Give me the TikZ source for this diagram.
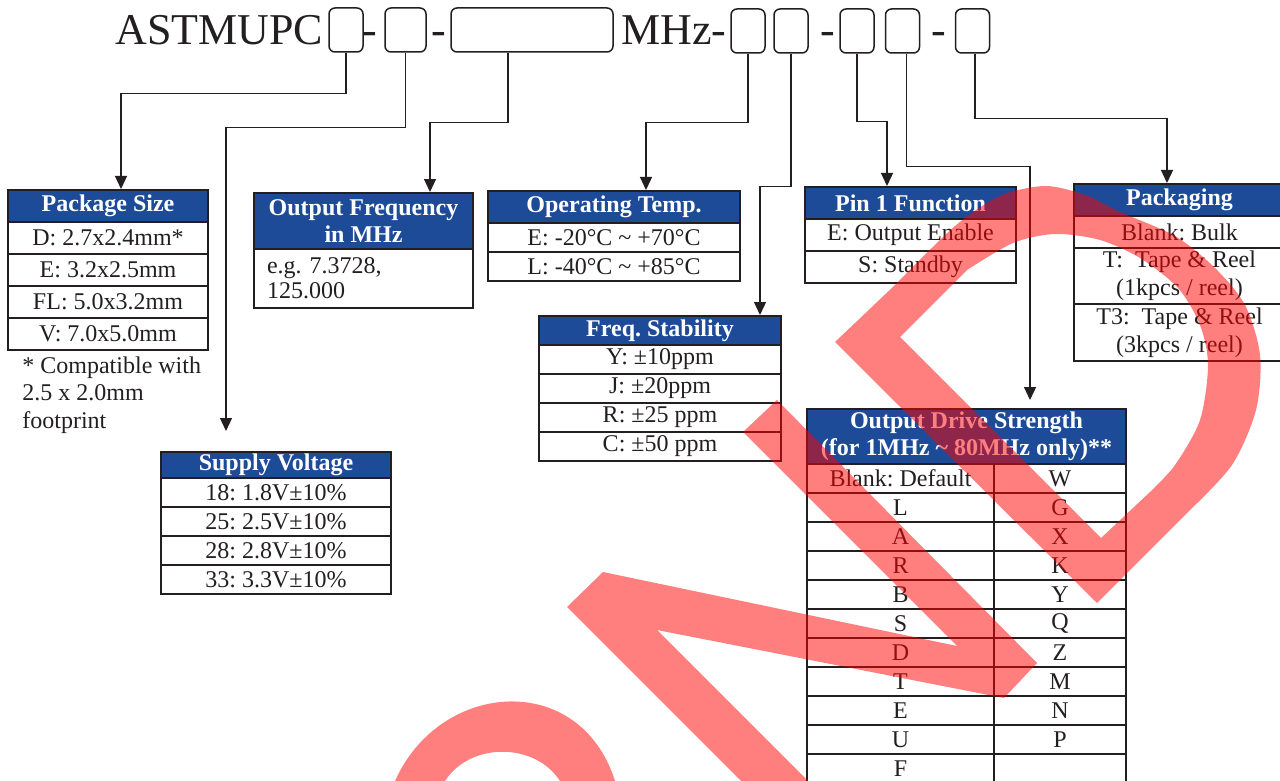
\documentclass[tikz,border=0pt]{standalone}
\usepackage{fontspec}
\setmainfont{Liberation Serif}
\usetikzlibrary{arrows.meta}
\frenchspacing

\definecolor{ink}{RGB}{35,31,32}
\definecolor{hdrblue}{RGB}{29,75,152}

\tikzset{
  pn/.style={text=ink, inner sep=0pt, font=\fontsize{22}{26}\selectfont},
  slot/.style={draw=ink, line width=0.75pt, rounded corners=3pt, minimum height=22pt, inner sep=0pt},
  feed/.style={draw=ink, line width=0.65pt, -{Triangle[length=6.5pt,width=6pt]}},
  head/.style={draw=ink, line width=1pt, fill=hdrblue, text=white, anchor=north west, inner sep=0pt, align=center, font=\bfseries\fontsize{12}{13.5}\selectfont},
  cell/.style={draw=ink, line width=1pt, text=ink, anchor=north west, inner sep=0pt, align=center, font=\fontsize{12}{14}\selectfont},
  stamp/.style={fill=red, fill opacity=0.5}
}

\begin{document}
\begin{tikzpicture}[x=0.5pt, y=-0.5pt]
\useasboundingbox (0,0) rectangle (1280,781);

% part number
\node[pn, anchor=base west] (pname) at (115,45) {ASTMUPC};
\node[slot, minimum width=17pt] (b1) at (346,30) {};
\node[pn, anchor=base] (d1) at (370,45) {-};
\node[slot, minimum width=20.5pt] (b2) at (405.5,30) {};
\node[pn, anchor=base] (d2) at (439,45) {-};
\node[slot, minimum width=81pt] (b3) at (532,30) {};
\node[pn, anchor=base west] (mhz) at (621,45) {MHz-};
\node[slot, minimum width=17pt] (b4) at (748,31) {};
\node[slot, minimum width=17pt] (b5) at (791,31) {};
\node[pn, anchor=base] (d3) at (828,45) {-};
\node[slot, minimum width=17pt] (b6) at (857,31) {};
\node[slot, minimum width=17pt] (b7) at (902.5,31) {};
\node[pn, anchor=base] (d4) at (939,45) {-};
\node[slot, minimum width=17pt] (b8) at (972.5,31) {};

% package size
\node[head, minimum width=100pt, minimum height=16pt] (pkg) at (7,189) {Package Size};
\node[cell, minimum width=100pt, minimum height=16pt] (pkg1) at (7,221) {D: 2.7x2.4mm*};
\node[cell, minimum width=100pt, minimum height=16pt] (pkg2) at (7,253) {E: 3.2x2.5mm};
\node[cell, minimum width=100pt, minimum height=16pt] (pkg3) at (7,285) {FL: 5.0x3.2mm};
\node[cell, minimum width=100pt, minimum height=16pt] (pkg4) at (7,317) {V: 7.0x5.0mm};
\node[anchor=north west, align=left, text=ink, inner sep=0pt, font=\fontsize{12}{13.75}\selectfont] (pkgnote) at (22,356) {* Compatible with\\2.5 x 2.0mm\\footprint};

% supply voltage
\node[head, minimum width=115pt, minimum height=13pt] (sup) at (160,451) {Supply Voltage};
\node[cell, minimum width=115pt, minimum height=14.5pt] (sup1) at (160,477) {18: 1.8V±10\%};
\node[cell, minimum width=115pt, minimum height=14.5pt] (sup2) at (160,506) {25: 2.5V±10\%};
\node[cell, minimum width=115pt, minimum height=14.5pt] (sup3) at (160,535) {28: 2.8V±10\%};
\node[cell, minimum width=115pt, minimum height=14.5pt] (sup4) at (160,564) {33: 3.3V±10\%};

% output frequency
\node[head, minimum width=109.5pt, minimum height=28pt] (freq) at (253,192) {Output Frequency\\in MHz};
\node[cell, minimum height=29.5pt, text width=96.5pt, inner xsep=6.5pt, align=left, font=\fontsize{12}{12.5}\selectfont] (freq1) at (253,248) {e.g. 7.3728,\\125.000};

% operating temp
\node[head, minimum width=126pt, minimum height=16pt] (temp) at (487,190) {Operating Temp.};
\node[cell, minimum width=126pt, minimum height=14.5pt] (temp1) at (487,222) {E: -20°C \textasciitilde{} +70°C};
\node[cell, minimum width=126pt, minimum height=14.5pt] (temp2) at (487,251) {L: -40°C \textasciitilde{} +85°C};

% frequency stability
\node[head, minimum width=121pt, minimum height=14.5pt] (stab) at (538,315) {Freq. Stability};
\node[cell, minimum width=121pt, minimum height=14.5pt] (stab1) at (538,344) {Y: ±10ppm};
\node[cell, minimum width=121pt, minimum height=14.5pt] (stab2) at (538,373) {J: ±20ppm};
\node[cell, minimum width=121pt, minimum height=14.5pt] (stab3) at (538,402) {R: ±25 ppm};
\node[cell, minimum width=121pt, minimum height=14.5pt] (stab4) at (538,431) {C: ±50 ppm};

% pin 1 function
\node[head, minimum width=105.5pt, minimum height=16pt] (pin) at (804,186) {Pin 1 Function};
\node[cell, minimum width=105.5pt, minimum height=16pt] (pin1) at (804,218) {E: Output Enable};
\node[cell, minimum width=105.5pt, minimum height=16pt] (pin2) at (804,250) {S: Standby};

% packaging
\node[head, minimum width=105.5pt, minimum height=16pt] (pack) at (1073,183) {Packaging};
\node[cell, minimum width=105.5pt, minimum height=16pt] (pack1) at (1073,215) {Blank: Bulk};
\node[cell, minimum width=105.5pt, minimum height=28pt] (pack2) at (1073,247) {T:~~Tape \& Reel\\(1kpcs / reel)};
\node[cell, minimum width=105.5pt, minimum height=28.5pt] (pack3) at (1073,303) {T3:~~Tape \& Reel\\(3kpcs / reel)};

% output drive strength
\node[head, minimum width=159.5pt, minimum height=27.5pt] (drv) at (806,408) {Output Drive Strength\\(for 1MHz \textasciitilde{} 80MHz only)**};
\foreach \l/\r [count=\i] in {Blank: Default/W, L/G, A/X, R/K, B/Y, S/Q, D/Z, T/M, E/N, U/P, F/{}} {
  \node[cell, minimum width=93.5pt, minimum height=14.5pt] (dl\i) at (806,{463+29*(\i-1)}) {\l};
  \node[cell, minimum width=66pt, minimum height=14.5pt] (dr\i) at (993,{463+29*(\i-1)}) {\r};
}

% connectors
\draw[feed] (b1.south) -- ++(0,41) -| ([xshift=6.5pt]pkg.north);
\draw[feed] (b2.south) -- ++(0,75) -| ([xshift=-25pt,yshift=10pt]sup.north);
\draw[feed] ([xshift=-12pt]b3.south) -- ++(0,70) -| ([xshift=33.25pt]freq.north);
\draw[feed] (b4.south) -- ++(0,69) -| ([xshift=16pt]temp.north);
\draw[feed] (b5.south) -- ++(0,133) -| ([xshift=50pt]stab.north);
\draw[feed] (b6.south) -- ++(0,68) -| ([xshift=-11.75pt]pin.north);
\draw[feed] ([xshift=2pt]b7.south) -- ++(0,113) -| ([xshift=31.75pt,yshift=4pt]drv.north);
\draw[feed] ([xshift=1.25pt]b8.south) -- ++(0,65) -| ([xshift=-6.25pt]pack.north);

% NRND stamp
\fill[stamp, even odd rule] (835,342) -- plot[smooth] coordinates {(895,285) (955,226) (1000,196) (1045,186) (1085,195) (1120,212) (1175,236) (1215,268) (1245,305) (1260,355) (1256,410) (1232,465) (1190,510)} -- (1097,603) -- cycle
  (900,337) -- plot[smooth] coordinates {(967,270) (1013,243) (1055,234) (1100,240) (1140,258) (1178,288) (1200,325) (1208,365) (1200,420) (1175,465) (1150,492)} -- (1101,538) -- cycle;
\fill[stamp] (761,801) -- (567,607) -- (603,572) -- (957,646) -- (743,432) -- (777,400) -- (1037,663) -- (1004,698) -- (657,630) -- (828,801) -- cycle;
\fill[stamp] (395,781) .. controls (440,680) and (580,670) .. (615,781) -- (560,781) .. controls (535,742) and (470,742) .. (445,781) -- cycle;
\end{tikzpicture}
\end{document}
